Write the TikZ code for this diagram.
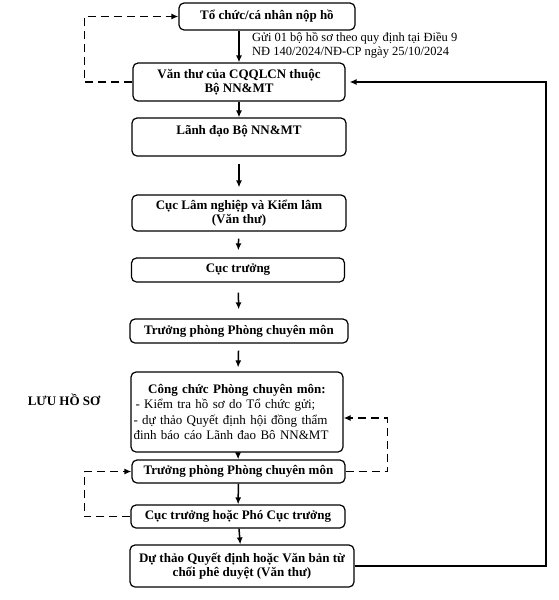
\documentclass[tikz,border=0pt]{standalone}
\usepackage{fontspec}
\setmainfont{Liberation Serif}
\usetikzlibrary{arrows.meta}
\tikzset{
  stepbox/.style={draw, line width=1.2pt, rounded corners=5pt, align=center,
    font=\bfseries\fontsize{13}{14.5}\selectfont, inner sep=2pt, minimum width=213pt},
  flow/.style={-{Latex[length=7pt,width=6pt]}, line width=1.5pt},
  back/.style={flow, dash pattern=on 8pt off 5pt},
  gap/.style={shorten <=7pt, shorten >=7pt}
}

\begin{document}
\begin{tikzpicture}[x=1pt, y=-1pt]
  \useasboundingbox (0,0) rectangle (559,600);
  \node[stepbox, minimum width=176pt, minimum height=27pt] (org) at (267, 16.5) {Tổ chức/cá nhân nộp hồ};
  \node[stepbox, minimum width=212pt, minimum height=38pt] (vt) at (239, 82) {Văn thư của CQQLCN thuộc\\Bộ NN\&MT};
  \node[stepbox, minimum width=214pt, text height=14pt, text depth=20pt] (ld) at (239, 137) {Lãnh đạo Bộ NN\&MT};
  \node[stepbox, minimum width=214pt, minimum height=36pt] (cuc) at (239, 213) {Cục Lâm nghiệp và Kiểm lâm\\(Văn thư)};
  \node[stepbox, minimum height=24pt] (ct) at (238, 270) {Cục trưởng};
  \node[stepbox, minimum width=218pt, minimum height=24pt] (tpa) at (239, 331) {Trưởng phòng Phòng chuyên môn};
  \node[stepbox, minimum width=212pt, minimum height=80pt, text width=207pt, align=left,
    font=\fontsize{13}{15.5}\selectfont] (cc) at (237, 412)
    {\makebox[207pt]{\bfseries Công chức Phòng chuyên môn:}\\
     \hspace{2pt}- Kiểm tra hồ sơ do Tổ chức gửi;\\
     - dự thảo Quyết định hội đồng thẩm\\
     đinh báo cáo Lãnh đao Bô NN\&MT};
  \node[stepbox, minimum height=23pt] (tpb) at (238.5, 471.5) {Trưởng phòng Phòng chuyên môn};
  \node[stepbox, minimum width=214pt, minimum height=23pt] (cpt) at (238, 516.5) {Cục trưởng hoặc Phó Cục trưởng};
  \node[stepbox, minimum width=224pt, minimum height=42pt] (dt) at (242, 566) {Dự thảo Quyết định hoặc Văn bản từ\\chối phê duyệt (Văn thư)};
  \node[font=\bfseries\fontsize{13}{14.5}\selectfont] (luu) at (64, 400) {LƯU HỒ SƠ};
  \node[anchor=north west, align=left, inner sep=0pt, font=\fontsize{12.5}{14}\selectfont] (note) at (252, 32)
    {Gửi 01 bộ hồ sơ theo quy định tại Điều 9\\NĐ 140/2024/NĐ-CP ngày 25/10/2024};
  \coordinate (ret) at (546, 82);
  % main flow
  \draw[flow] (org.south -| vt.north) to (vt.north);
  \draw[flow] (vt) to (ld);
  \draw[flow, gap] (ld) to (cuc);
  \draw[flow, gap] (cuc) to (ct);
  \draw[flow, shorten <=10pt, shorten >=9pt] (ct) to (tpa);
  \draw[flow, shorten <=7pt, shorten >=4pt] (tpa) to (cc);
  \draw[flow] (cc) to (tpb);
  \draw[flow] (tpb) to (cpt);
  \draw[flow] (cpt) to (dt);
  % returns
  \draw[flow, shorten >=4pt] (dt.east) -| (ret) -- (vt.east);
  \draw[back] (vt.west) -- ++(-48,0) |- (org.west);
  \draw[back] (tpb.east) -- ++(42,0) |- ([yshift=-6pt]cc.east);
  \draw[back] (cpt.west) -- ++(-46,0) |- (tpb.west);
\end{tikzpicture}
\end{document}
